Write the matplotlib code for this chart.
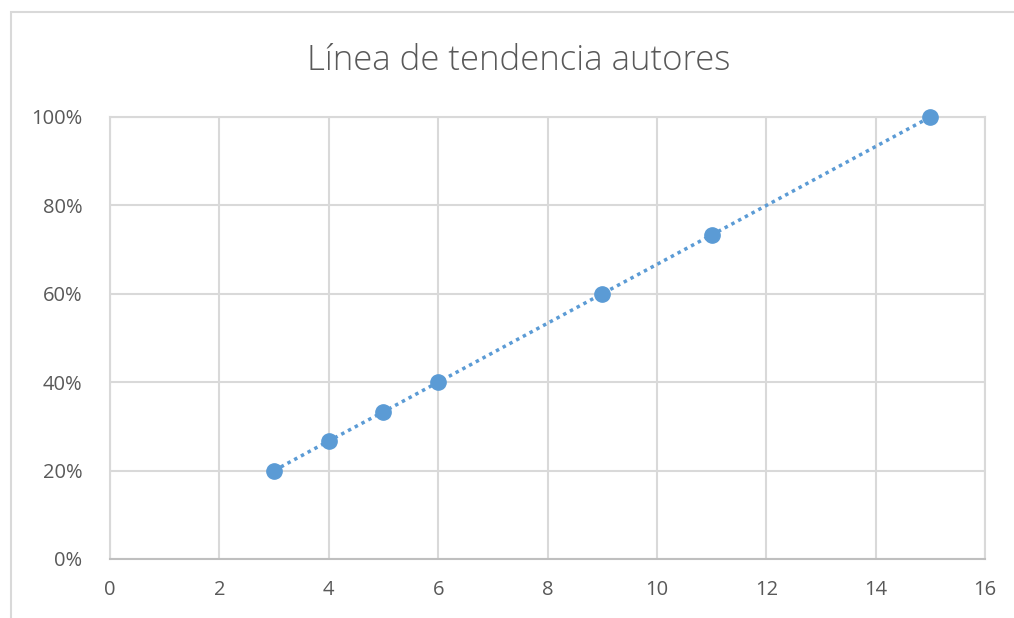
import matplotlib
matplotlib.use('Agg')
import matplotlib.pyplot as plt
from matplotlib.patches import Rectangle
from matplotlib.ticker import PercentFormatter

plt.rcParams['font.family'] = ['Open Sans', 'DejaVu Sans']

autores = [3, 4, 5, 6, 9, 11, 15]
porcentaje = [0.20, 0.267, 0.333, 0.40, 0.60, 0.733, 1.00]

BLUE = '#5B9BD5'
GRID = '#D9D9D9'
TEXT = '#595959'

fig = plt.figure(figsize=(10.14, 6.18), dpi=100)
ax = fig.add_axes([110/1014, 1 - 559/618, 875/1014, 442/618])

# chart area border (Excel style)
fig.patches.append(Rectangle((11/1014, -0.1), 1.2, 1 - 12/618 + 0.1,
                             transform=fig.transFigure, fill=False,
                             edgecolor=GRID, linewidth=1.5))

ax.plot(autores, porcentaje, linestyle=(0, (1, 1.2)), linewidth=2.5,
        color=BLUE, marker='o', markersize=11, markerfacecolor=BLUE,
        markeredgecolor=BLUE, zorder=3, clip_on=False)

ax.set_xlim(0, 16)
ax.set_ylim(0, 1)
ax.set_xticks(range(0, 17, 2))
ax.set_yticks([0, 0.2, 0.4, 0.6, 0.8, 1.0])
ax.yaxis.set_major_formatter(PercentFormatter(1.0, decimals=0))
ax.grid(True, color=GRID, linewidth=1.5)
ax.set_axisbelow(True)
for s in ['top', 'right', 'left']:
    ax.spines[s].set_color(GRID)
    ax.spines[s].set_linewidth(1.5)
ax.spines['bottom'].set_color('#BFBFBF')
ax.spines['bottom'].set_linewidth(1.5)
ax.tick_params(length=0, labelsize=14.5, colors=TEXT)
ax.tick_params(axis='y', pad=20)
ax.tick_params(axis='x', pad=15)

fig.text(519/1014, 1 - 61/618, 'Línea de tendencia autores', fontsize=25,
         color=TEXT, fontweight='light', ha='center', va='center')

fig.savefig('out.png', dpi=100)
